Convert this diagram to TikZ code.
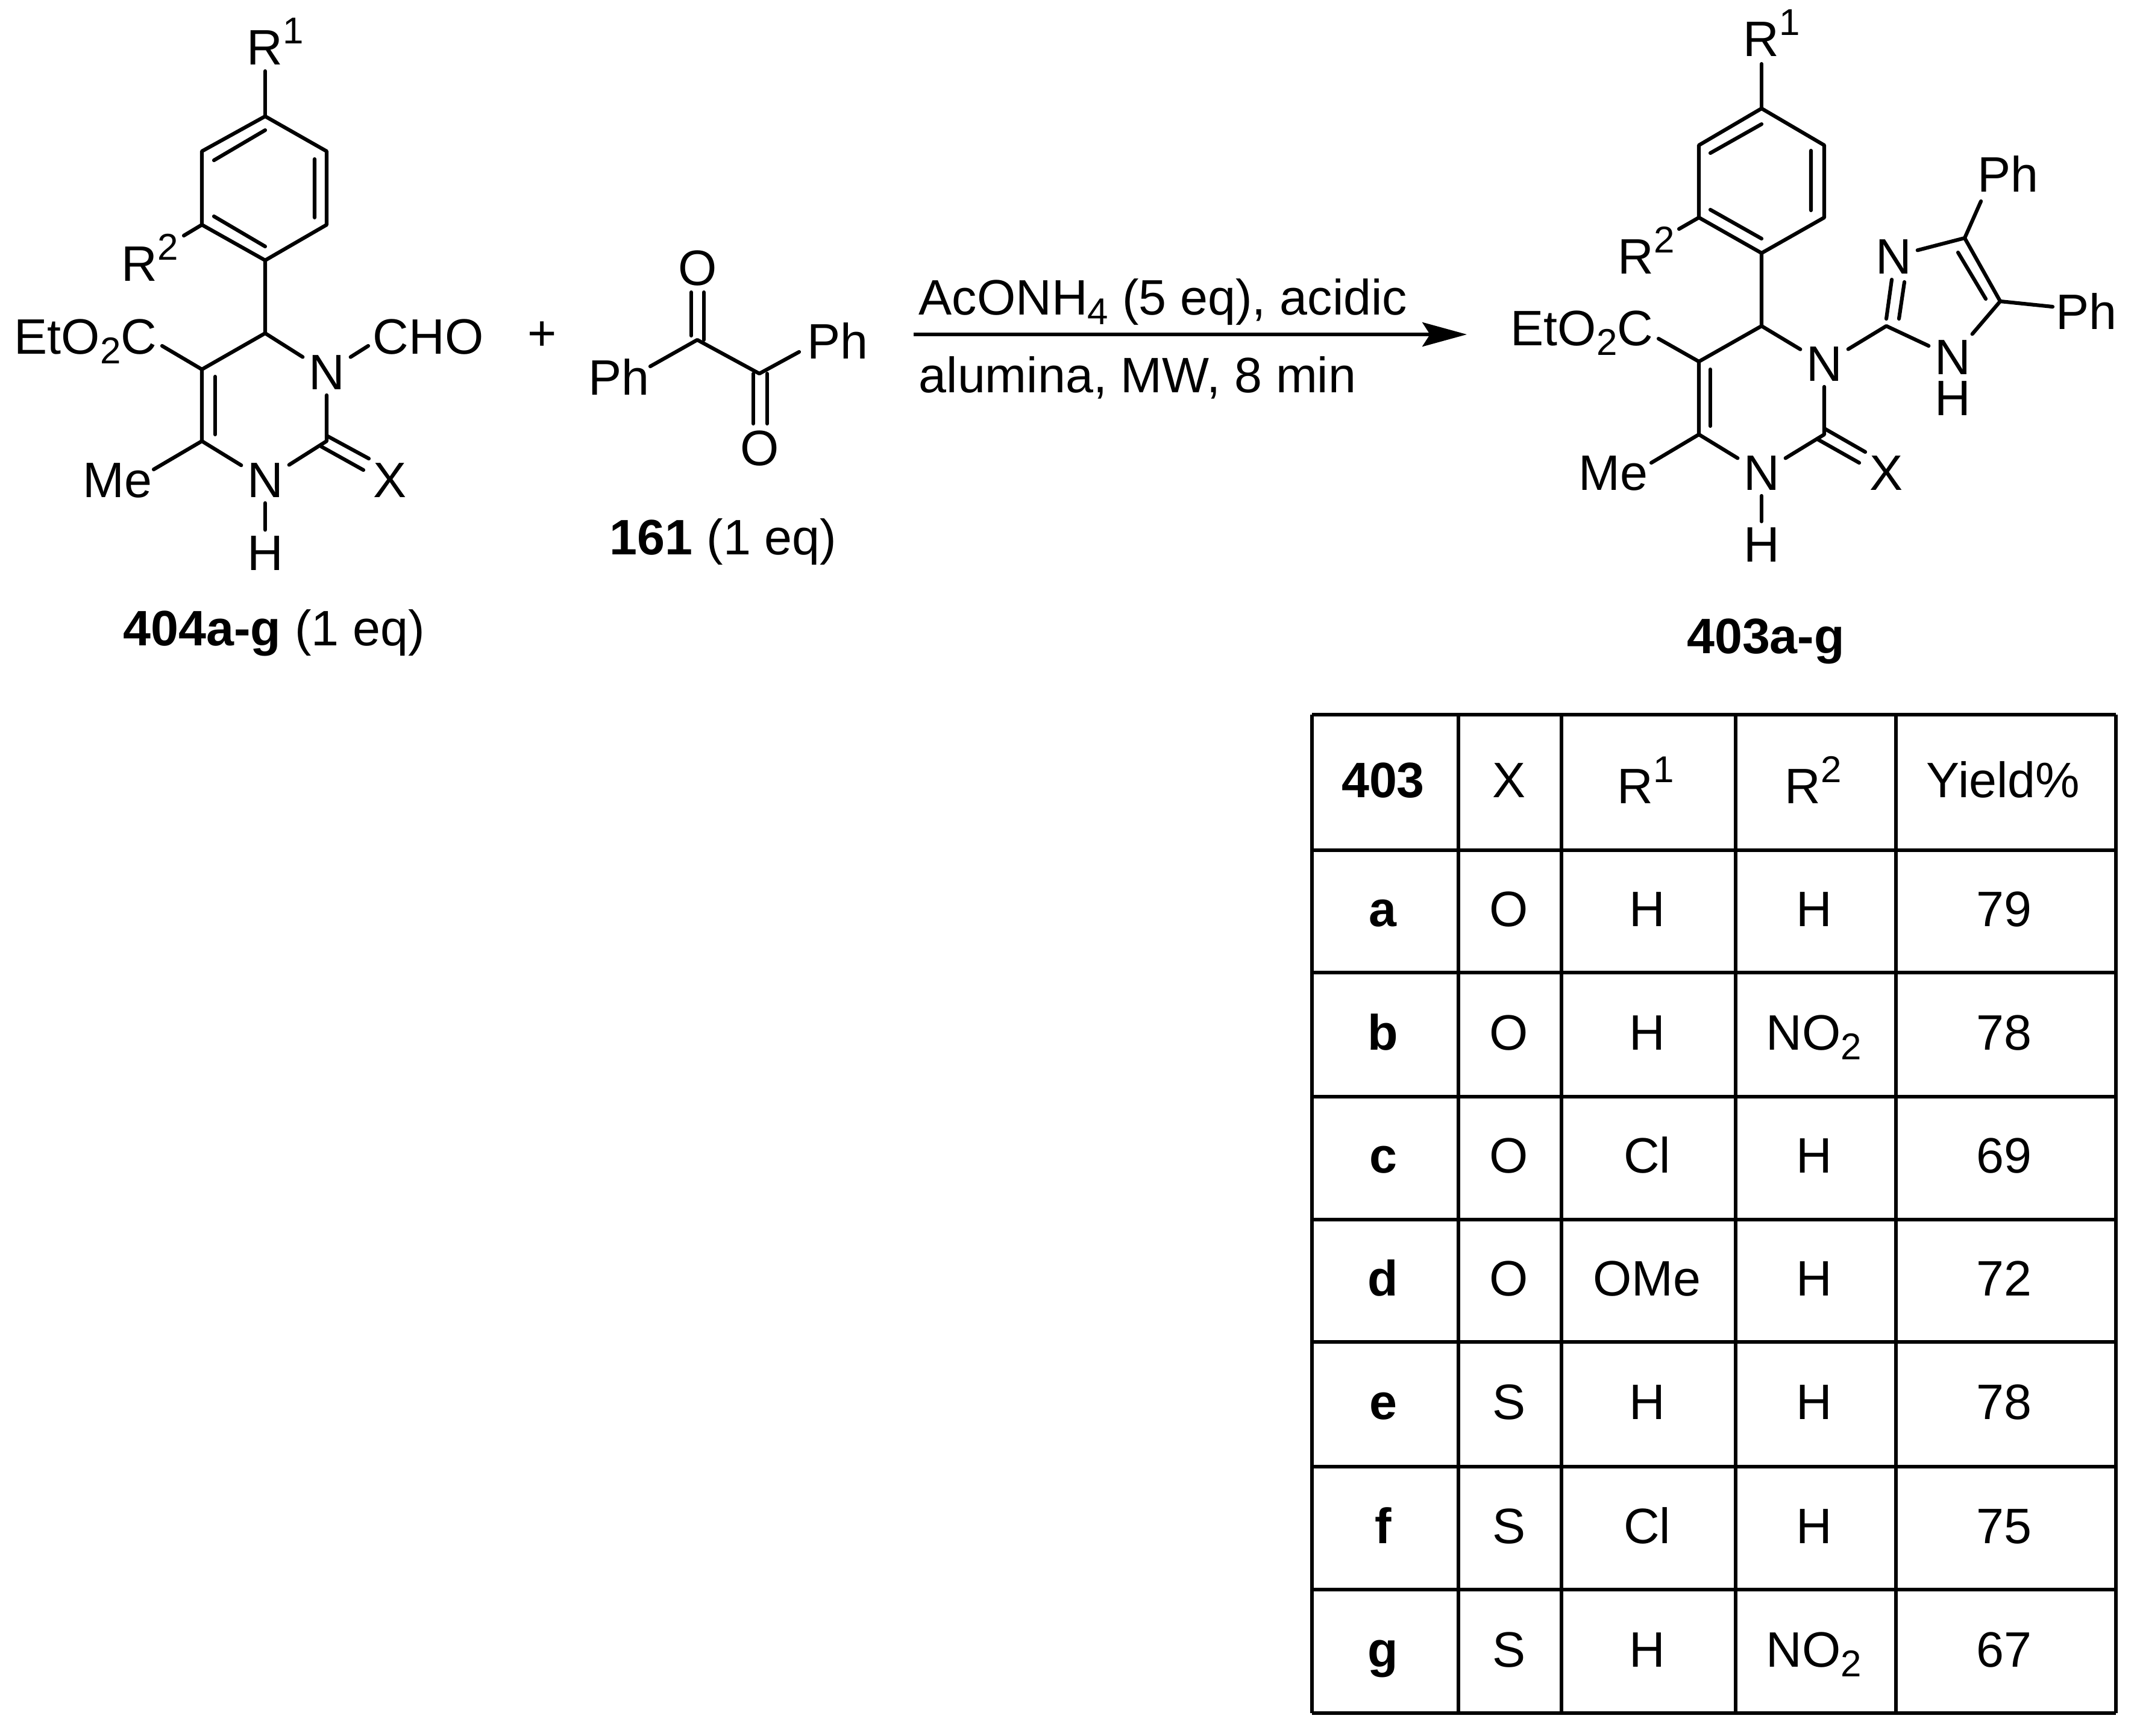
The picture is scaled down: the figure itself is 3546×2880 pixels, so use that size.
\documentclass[tikz,border=0pt]{standalone}
\usepackage{fontspec}
\setmainfont{Liberation Sans}
\usetikzlibrary{arrows.meta}
\newcommand{\supsc}[1]{\raisebox{9.7pt}{\fontsize{17.6}{17.6}\selectfont #1}}
\newcommand{\subsc}[1]{\raisebox{-4.8pt}{\fontsize{17.6}{17.6}\selectfont #1}}
\tikzset{
  bond/.style={line width=1.75pt,line cap=round,line join=round,black},
  atom/.style={font=\fontsize{23.5}{26}\selectfont,inner sep=2.6pt,anchor=base,black},
  group/.style={font=\fontsize{23.5}{26}\selectfont,inner sep=0pt,anchor=base west,black},
  cell/.style={font=\fontsize{23.5}{26}\selectfont,inner sep=0pt,anchor=base,black},
  grid/.style={line width=1.6pt,line cap=square,black},
  rxnarrow/.style={line width=1.6pt,black,-{Stealth[length=21pt,width=11.4pt,inset=3.6pt]}}
}
\begin{document}
\begin{tikzpicture}[x=0.01cm,y=-0.01cm]
\useasboundingbox[fill=white] (0,0) rectangle (3546,2880);

% ---------- reactant 404
\coordinate (a-1) at (440,193);
\coordinate (a-2) at (335,251);
\coordinate (a-3) at (335,373);
\coordinate (a-4) at (440,432);
\coordinate (a-5) at (542,373);
\coordinate (a-6) at (542,251);
\coordinate (a-c4) at (440,553);
\coordinate (a-c5) at (335,613);
\coordinate (a-c6) at (335,732);
\coordinate (a-c2) at (542,732);
\node[atom] (a-n1) at (542,646) {N};
\node[atom] (a-n3) at (440,825) {N};
\node[atom] (a-h) at (440,946) {H};
\node[cell] (a-x) at (647,825) {X};
\node[group] (a-r1) at (409,107) {R\supsc{1}};
\node[group] (a-r2) at (201,466) {R\supsc{2}};
\node[group] (a-eto) at (23,587) {EtO\subsc{2}C};
\node[group] (a-cho) at (618,587) {CHO};
\node[group] (a-me) at (137,825) {Me};
\node[cell] (plus) at (900,581) {+};
\node[cell] (a-label) at (455,1071) {\textbf{404a-g} (1 eq)};
\coordinate (a-r1e) at (440,118);
\coordinate (a-r2e) at (305,391);
\coordinate (a-etoe) at (269,574);
\coordinate (a-choe) at (611,574);
\coordinate (a-mee) at (255,779);
\draw[bond] (a-1) -- (a-2) -- (a-3) -- (a-4) -- (a-5) -- (a-6) -- cycle;
\draw[bond] (a-r1e) -- (a-1);
\draw[bond] (355,266) -- (440,216) (355,359) -- (440,409) (522,264) -- (522,361);
\draw[bond] (a-3) -- (a-r2e) (a-4) -- (a-c4) -- (a-c5) -- (a-c6);
\draw[bond] (a-c5) -- (a-etoe) (a-c4) -- (a-n1) (a-n1) -- (a-choe) (a-n1) -- (a-c2) -- (a-n3) -- (a-c6) -- (a-mee);
\draw[bond] (357,625) -- (357,721);
\draw[bond] (a-n3) -- (a-h);
\draw[bond] (542,723) -- (612,761) (533,741) -- (603,780);

% ---------- reactant 161
\coordinate (b-c1) at (1157,564);
\coordinate (b-c2) at (1260,620);
\node[atom,anchor=center] (b-o1) at (1158,445) {O};
\node[atom,anchor=center] (b-o2) at (1261,744) {O};
\node[group] (b-ph1) at (976,655) {Ph};
\node[group] (b-ph2) at (1339,595) {Ph};
\node[cell] (b-label) at (1200,920) {\textbf{161} (1 eq)};
\coordinate (b-ph1e) at (1079,608);
\coordinate (b-ph2e) at (1326,584);
\draw[bond] (b-ph1e) -- (b-c1) -- (b-c2) -- (b-ph2e);
\draw[bond] (1147,485) -- (1147,557) (1168,485) -- (1168,564);
\draw[bond] (1250,620) -- (1250,703) (1273,620) -- (1273,703);

% ---------- reaction arrow
\coordinate (r-start) at (1516,555);
\coordinate (r-end) at (2434,555);
\draw[rxnarrow] (r-start) -- (r-end);
\node[group] (r-top) at (1524,522) {AcONH\subsc{4} (5 eq), acidic};
\node[group] (r-bot) at (1524,651) {alumina, MW, 8 min};

% ---------- product 403
\coordinate (p-1) at (2923,180);
\coordinate (p-2) at (2819,241);
\coordinate (p-3) at (2819,361);
\coordinate (p-4) at (2923,420);
\coordinate (p-5) at (3027,361);
\coordinate (p-6) at (3027,241);
\coordinate (p-c4) at (2923,541);
\coordinate (p-c5) at (2819,600);
\coordinate (p-c6) at (2819,721);
\coordinate (p-c2) at (3027,721);
\node[atom] (p-n1) at (3027,632) {N};
\node[atom] (p-n3) at (2923,813) {N};
\node[atom] (p-h) at (2923,932) {H};
\node[cell] (p-x) at (3130,813) {X};
\node[group] (p-r1) at (2892,93) {R\supsc{1}};
\node[group] (p-r2) at (2684,454) {R\supsc{2}};
\node[group] (p-eto) at (2506,573) {EtO\subsc{2}C};
\node[group] (p-me) at (2619,813) {Me};
\node[cell] (p-label) at (2930,1084) {\textbf{403a-g}};
\coordinate (p-r1e) at (2923,106);
\coordinate (p-r2e) at (2786,380);
\coordinate (p-etoe) at (2752,562);
\coordinate (p-mee) at (2740,768);
\draw[bond] (p-1) -- (p-2) -- (p-3) -- (p-4) -- (p-5) -- (p-6) -- cycle;
\draw[bond] (p-r1e) -- (p-1);
\draw[bond] (2838,254) -- (2923,206) (2838,348) -- (2923,396) (3005,250) -- (3005,349);
\draw[bond] (p-3) -- (p-r2e) (p-4) -- (p-c4) -- (p-c5) -- (p-c6);
\draw[bond] (p-c5) -- (p-etoe) (p-c4) -- (p-n1) (p-n1) -- (p-c2) -- (p-n3) -- (p-c6) -- (p-mee);
\draw[bond] (2838,613) -- (2838,707);
\draw[bond] (p-n3) -- (p-h);
\draw[bond] (3027,711) -- (3095,750) (3016,729) -- (3085,768);
% imidazole
\coordinate (i-c2) at (3130,541);
\coordinate (i-c4) at (3260,395);
\coordinate (i-c5) at (3319,500);
\node[atom] (i-n3) at (3142,454) {N};
\node[atom] (i-n1) at (3240,621) {N};
\node[atom,inner sep=0pt] (i-h) at (3240,689) {H};
\node[group] (i-ph1) at (3281,318) {Ph};
\node[group] (i-ph2) at (3411,546) {Ph};
\coordinate (i-ph1e) at (3287,334);
\coordinate (i-ph2e) at (3406,509);
\draw[bond] (p-n1) -- (i-c2) -- (i-n1) -- (i-c5) -- (i-c4) -- (i-n3);
\draw[bond] (i-c4) -- (i-ph1e) (i-c5) -- (i-ph2e);
\draw[bond] (3249,419) -- (3295,496);
\draw[bond] (3139,464) -- (3130,529) (3160,468) -- (3151,529);

% ---------- table
\foreach \gx in {2177,2420,2591,2880,3146,3511}
  \draw[grid] (\gx,1186) -- (\gx,2843);
\foreach \gy in {1186,1411,1614,1820,2024,2227,2434,2638,2843}
  \draw[grid] (2177,\gy) -- (3511,\gy);
\node[cell] (h-1) at (2295,1323) {\textbf{403}};
\node[cell] (h-2) at (2504,1323) {X};
\node[cell] (h-3) at (2731,1333) {R\supsc{1}};
\node[cell] (h-4) at (3009,1333) {R\supsc{2}};
\node[cell] (h-5) at (3324,1323) {Yield\%};
\foreach \id/\by/\xv/\ra/\rb/\yl in {
  a/1537/O/H/H/79,
  b/1742/O/H/NO\subsc{2}/78,
  c/1946/O/Cl/H/69,
  d/2150/O/OMe/H/72,
  e/2355/S/H/H/78,
  f/2561/S/Cl/H/75,
  g/2766/S/H/NO\subsc{2}/67}{
  \node[cell] (t-\id-1) at (2295,\by) {\textbf{\id}};
  \node[cell] (t-\id-2) at (2504,\by) {\xv};
  \node[cell] (t-\id-3) at (2733,\by) {\ra};
  \node[cell] (t-\id-4) at (3010,\by) {\rb};
  \node[cell] (t-\id-5) at (3325,\by) {\yl};
}
\end{tikzpicture}
\end{document}
